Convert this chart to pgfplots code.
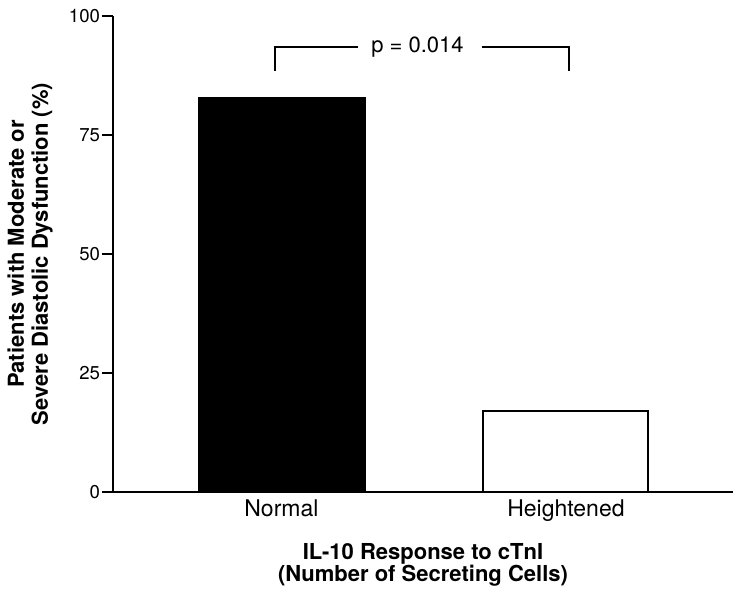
\documentclass[border=0pt]{standalone}
\usepackage{fontspec}
\setmainfont{TeX Gyre Heros}
\usepackage{pgfplots}
\pgfplotsset{compat=1.18}

\begin{document}
\begin{tikzpicture}
\begin{axis}[
  name=ax,
  scale only axis,
  width=310pt,
  height=238pt,
  xmin=-0.592, xmax=1.587,
  ymin=0, ymax=100,
  axis lines*=left,
  axis line style={line width=1pt},
  clip=false,
  ytick={0,25,50,75,100},
  tick align=outside,
  major tick length=5.5pt,
  ytick style={line width=0.9pt, black},
  yticklabel style={font=\fontsize{9.3}{10}\selectfont, inner xsep=0.8pt},
  /pgf/number format/assume math mode=true,
  xtick={0,1},
  xticklabels={Normal, Heightened},
  xtick style={draw=none},
  xticklabel style={font=\fontsize{11.5}{13}\selectfont, inner sep=0pt, yshift=2pt},
  ylabel={Patients with Moderate or\\Severe Diastolic Dysfunction (\%)},
  ylabel style={at={(axis description cs:-0.1339,0.5)}, anchor=center, rotate=0,
    align=center, font=\bfseries\fontsize{11}{12}\selectfont},
  xlabel={IL-10 Response to cTnI\\(Number of Secreting Cells)},
  xlabel style={at={(axis description cs:0.5,-0.107)}, anchor=north, inner sep=0pt,
    align=center, font=\bfseries\fontsize{11}{11}\selectfont},
]
\addplot[ybar, bar width=83.5pt, bar shift=0pt, fill=black, draw=black]
  coordinates {(0,83)};
\addplot[ybar, bar width=82.5pt, bar shift=0pt, fill=white, draw=black, line width=1pt]
  coordinates {(1,17)};
% significance bracket
\draw[line width=0.8pt] (axis cs:-0.023,88.4) -- (axis cs:-0.023,93.5) -- (axis cs:0.269,93.5);
\draw[line width=0.8pt] (axis cs:0.705,93.5) -- (axis cs:1.01,93.5) -- (axis cs:1.01,88.4);
\node[anchor=base, font=\fontsize{11}{12}\selectfont] at (axis cs:0.478,92.4) {p = 0.014};
\end{axis}
\pgfresetboundingbox
\path ([shift={(-56.5pt,-52pt)}]ax.south west) rectangle ([shift={(4pt,8pt)}]ax.north east);
\end{tikzpicture}
\end{document}
